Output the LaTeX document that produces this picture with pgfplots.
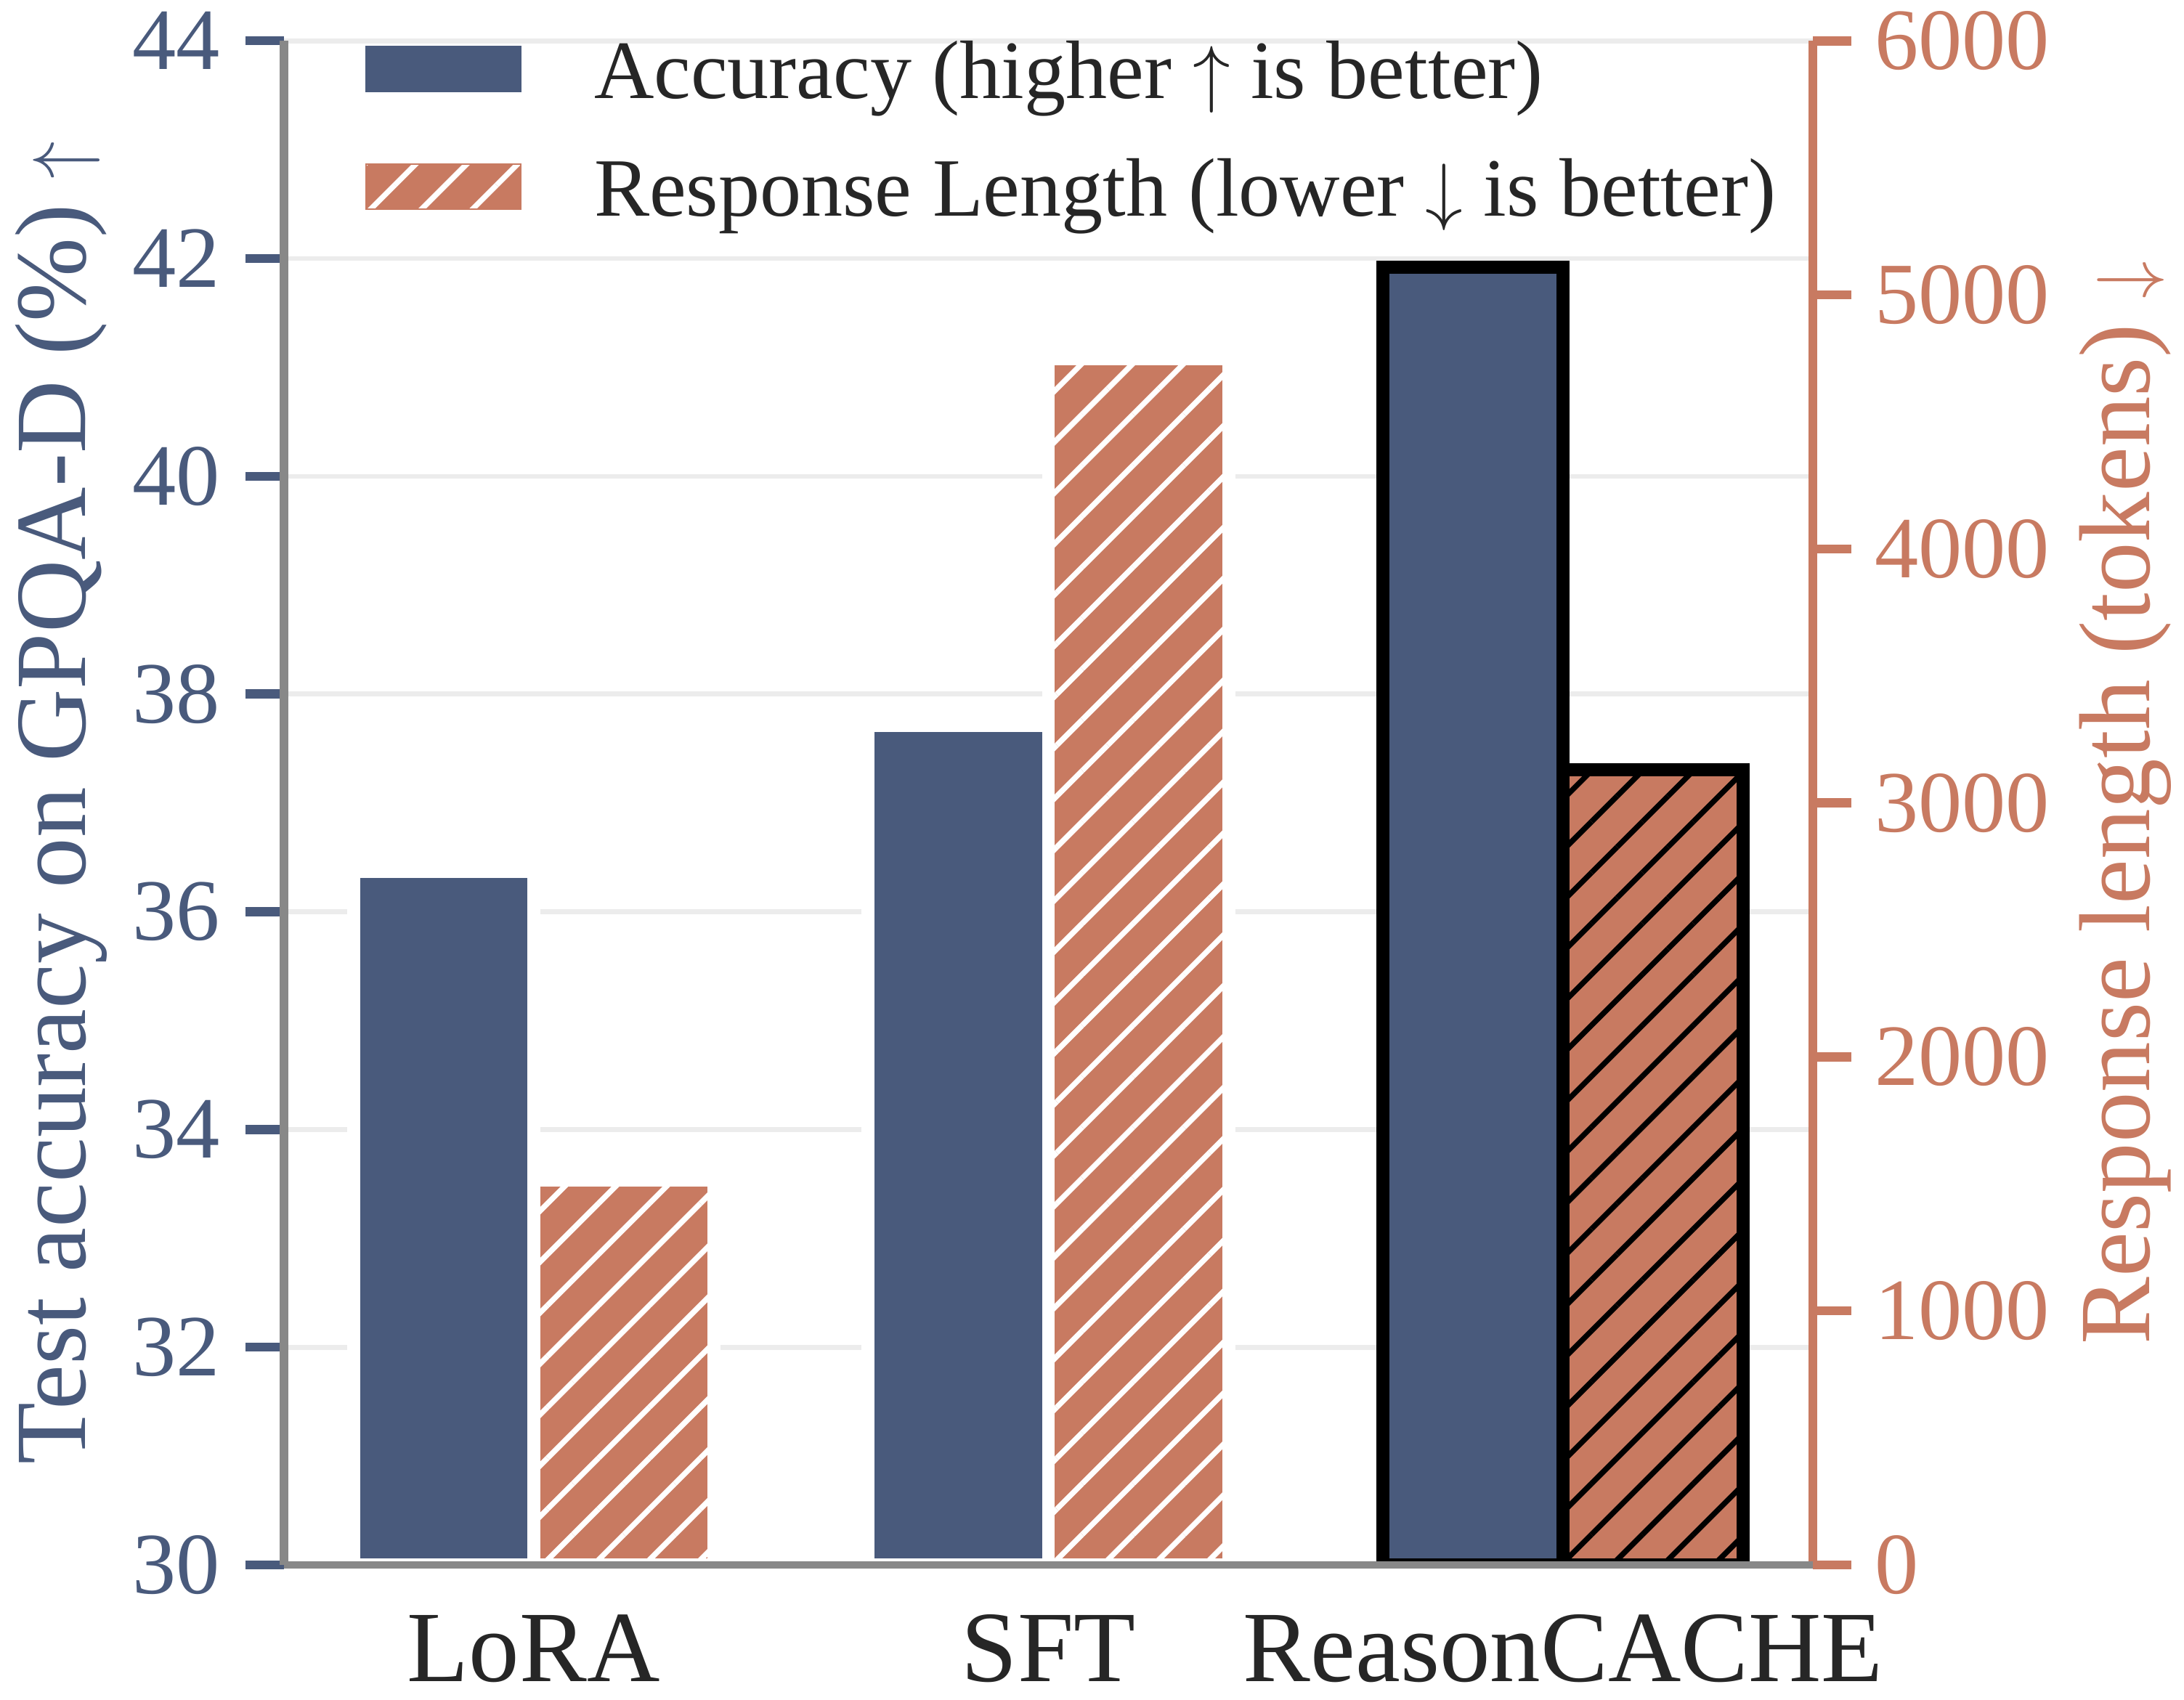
\documentclass[border=0pt]{standalone}
\usepackage{pgfplots}
\pgfplotsset{compat=1.18}
\usepackage{fontspec}
\setmainfont{Liberation Serif}
\usetikzlibrary{patterns.meta}

\definecolor{accblue}{RGB}{73,90,124}
\definecolor{lenorange}{RGB}{200,122,97}
\definecolor{spinegray}{RGB}{136,136,136}
\definecolor{gridgray}{RGB}{236,236,236}
\definecolor{txtdark}{RGB}{38,38,38}

\newcommand\tickfont{\fontsize{29}{34}\selectfont}
\newcommand\labfont{\fontsize{33.5}{40}\selectfont}
\newcommand\legfont{\fontsize{27.5}{33}\selectfont}

\tikzset{
  hatch/.style={postaction={pattern color=#1, pattern={Lines[angle=45,distance=11.9bp,line width=1.8bp]}}},
}
\pgfplotsset{
  barbase/.style={ybar, bar width=0.35, line width=4.3bp},
}

\begin{document}
\begin{tikzpicture}
% accuracy (left axis)
\begin{axis}[name=ax1,
  scale only axis, width=505.2bp, height=503.7bp,
  xmin=-0.485, xmax=2.485, ymin=30, ymax=44,
  axis x line*=bottom, axis y line*=left,
  x axis line style={spinegray, line width=2.2bp},
  y axis line style={spinegray, line width=2.7bp},
  xtick={0,1,2}, xticklabels={LoRA,SFT,ReasonCACHE},
  xtick style={draw=none},
  ytick={30,32,...,44},
  ytick style={accblue, line width=3bp},
  tick align=outside, major tick length=12.7bp,
  xticklabel style={font=\labfont, text=txtdark, anchor=base, inner sep=0pt, yshift=-25.7bp},
  yticklabel style={font=\tickfont, text=accblue, inner sep=0pt, xshift=-8.2bp},
  /pgf/number format/assume math mode=true,
  ymajorgrids, grid style={gridgray, line width=1.6bp},
  ylabel={Test accuracy on GPQA-D (\%) $\uparrow$},
  ylabel style={at={(axis description cs:-0.1297,0.5)}, anchor=base, font=\labfont, text=accblue},
]
\addplot[barbase, bar shift=-0.175, fill=accblue, draw=white] coordinates {(0,36.37) (1,37.71)};
\addplot[barbase, bar shift=-0.175, fill=accblue, draw=black] coordinates {(2,41.92)};
\end{axis}
% response length (right axis)
\begin{axis}[name=ax2, at={(ax1.south west)}, anchor=south west,
  scale only axis, width=505.2bp, height=503.7bp,
  xmin=-0.485, xmax=2.485, ymin=0, ymax=6000,
  axis x line=none, axis y line*=right,
  y axis line style={lenorange, line width=3bp},
  ytick={0,1000,...,6000},
  ytick style={lenorange, line width=3bp},
  tick align=outside, major tick length=12.7bp,
  scaled y ticks=false,
  yticklabel style={font=\tickfont, text=lenorange, inner sep=0pt, xshift=7.5bp, /pgf/number format/1000 sep={}},
  /pgf/number format/assume math mode=true,
  ylabel={Response length (tokens) $\downarrow$},
  ylabel style={at={(axis description cs:1.2200,0.5)}, anchor=base, font=\labfont, text=lenorange},
  legend cell align=left,
  legend style={at={(axis description cs:0.0534,1.0018)}, anchor=north west,
    draw=none, fill=none, inner sep=0pt, outer sep=0pt, font=\legfont,
    row sep=12.9bp,
    nodes={inner sep=0pt, text height=20bp, text depth=6bp, text=txtdark},
    /tikz/every odd column/.append style={column sep=24bp}},
]
\addlegendimage{legend image code/.code={\fill[accblue] (0bp,-4.65bp) rectangle (51.1bp,10.25bp);}}
\addlegendentry{Accuracy (higher $\uparrow$ is better)}
\addlegendimage{legend image code/.code={\fill[lenorange, hatch=white] (0bp,-4.65bp) rectangle (51.1bp,10.25bp);}}
\addlegendentry{Response Length (lower $\downarrow$ is better)}
\addplot[barbase, bar shift=0.175, fill=lenorange, draw=white, hatch=white] coordinates {(0,1516) (1,4749)};
\addplot[barbase, bar shift=0.175, fill=lenorange, draw=black, hatch=black] coordinates {(2,3131)};
\end{axis}
\draw[spinegray, line width=2.2bp] (ax1.south west) -- (ax1.south east);
\pgfresetboundingbox
\path (ax1.south west) ++(-93.84bp,-44.64bp) rectangle ++(721.68bp,561.84bp);
\end{tikzpicture}
\end{document}
